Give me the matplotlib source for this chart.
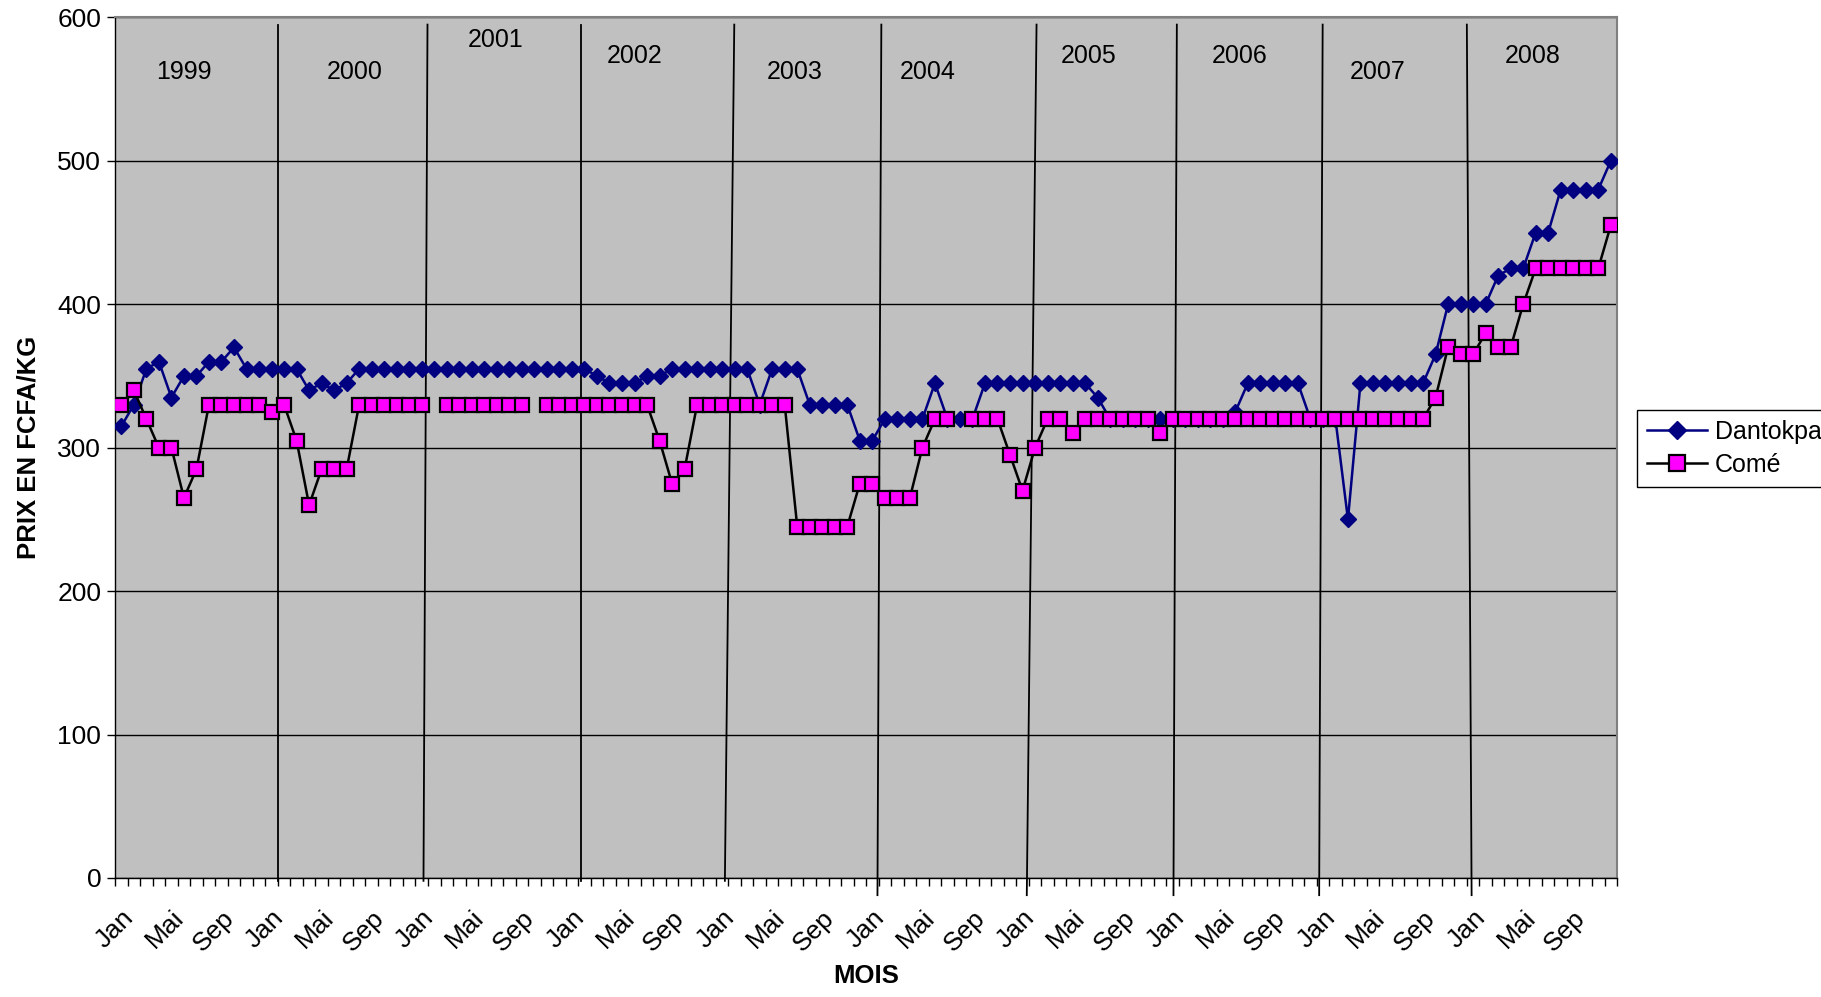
import numpy as np
import matplotlib
matplotlib.use('Agg')
import matplotlib.pyplot as plt
from matplotlib import font_manager

nan = np.nan

# monthly prices 1999-2008 (FCFA/kg), one row per year
dantokpa = [
    315, 330, 355, 360, 335, 350, 350, 360, 360, 370, 355, 355,
    355, 355, 355, 340, 345, 340, 345, 355, 355, 355, 355, 355,
    355, 355, 355, 355, 355, 355, 355, 355, 355, 355, 355, 355,
    355, 355, 350, 345, 345, 345, 350, 350, 355, 355, 355, 355,
    355, 355, 355, 330, 355, 355, 355, 330, 330, 330, 330, 305,
    305, 320, 320, 320, 320, 345, 320, 320, 320, 345, 345, 345,
    345, 345, 345, 345, 345, 345, 335, 320, 320, 320, 320, 320,
    320, 320, 320, 320, 320, 325, 345, 345, 345, 345, 345, 320,
    320, 320, 250, 345, 345, 345, 345, 345, 345, 365, 400, 400,
    400, 400, 420, 425, 425, 450, 450, 480, 480, 480, 480, 500,
]
come = [
    330, 340, 320, 300, 300, 265, 285, 330, 330, 330, 330, 330,
    325, 330, 305, 260, 285, 285, 285, 330, 330, 330, 330, 330,
    330, nan, 330, 330, 330, 330, 330, 330, 330, nan, 330, 330,
    330, 330, 330, 330, 330, 330, 330, 305, 275, 285, 330, 330,
    330, 330, 330, 330, 330, 330, 245, 245, 245, 245, 245, 275,
    275, 265, 265, 265, 300, 320, 320, nan, 320, 320, 320, 295,
    270, 300, 320, 320, 310, 320, 320, 320, 320, 320, 320, 310,
    320, 320, 320, 320, 320, 320, 320, 320, 320, 320, 320, 320,
    320, 320, 320, 320, 320, 320, 320, 320, 320, 335, 370, 365,
    365, 380, 370, 370, 400, 425, 425, 425, 425, 425, 425, 455,
]
month_names = ['Jan', 'Mai', 'Sep']
years = ['1999', '2000', '2001', '2002', '2003', '2004', '2005', '2006', '2007', '2008']

# hand-drawn year annotations (month index units / price units)
year_label_x = [4.98, 18.67, 29.94, 41.0, 53.79, 64.45, 77.27, 89.34, 100.4, 112.79]
year_label_y = [562, 562, 584, 573, 562, 562, 573, 573, 562, 573]
sep_top = [12.49, 24.46, 36.73, 48.97, 60.72, 73.12, 84.33, 95.98, 107.5]
sep_bottom = [12.49, 24.14, 36.73, 48.22, 60.41, 72.34, 84.06, 95.7, 107.88]
sep_low = [-2, -2, -2, -2, -12, -12, -12, -12, -12]

names = {f.name for f in font_manager.fontManager.ttflist}
narrow = 'Liberation Sans Narrow' if 'Liberation Sans Narrow' in names else 'Liberation Sans'
plt.rcParams['font.family'] = ['Liberation Sans', 'DejaVu Sans']

n = len(dantokpa)
x = np.arange(n)

fig = plt.figure(figsize=(18.21, 9.97), dpi=100)
ax = fig.add_axes([0.0632, 0.1194, 0.8248, 0.8631])
ax.set_facecolor('#C0C0C0')

ax.set_xlim(-0.5, n - 0.5)
ax.set_ylim(0, 600)
ax.set_yticks(np.arange(0, 601, 100))
ax.yaxis.grid(True, color='black', linewidth=1)
ax.set_axisbelow(True)

for t, b, lo in zip(sep_top, sep_bottom, sep_low):
    ax.plot([b, t], [lo, 595], color='black', linewidth=1.3, clip_on=False, zorder=1.5)

for lx, ly, txt in zip(year_label_x, year_label_y, years):
    ax.text(lx, ly, txt, ha='center', va='center', fontsize=18, family=narrow)

ax.plot(x, dantokpa, color='#000080', linewidth=1.8, marker='D', markersize=8.5,
        markerfacecolor='#000080', markeredgecolor='#000080', label='Dantokpa', zorder=3)
ax.plot(x, come, color='black', linewidth=1.8, marker='s', markersize=10,
        markerfacecolor='#FF00FF', markeredgecolor='black', markeredgewidth=1.6,
        label='Comé', zorder=4)

tick_pos = np.arange(0, n, 4)
ax.set_xticks(tick_pos)
ax.set_xticklabels([month_names[i % 3] for i in range(len(tick_pos))],
                   rotation=45, ha='right', va='top', rotation_mode='anchor',
                   fontsize=19, family=narrow)
ax.set_xticks(np.arange(-0.5, n, 1), minor=True)
ax.tick_params(axis='x', which='major', length=0, pad=20)
ax.tick_params(axis='x', which='minor', length=6, width=1, direction='out')
ax.tick_params(axis='y', length=6, width=1, direction='out', labelsize=19, pad=4)
for lab in ax.get_yticklabels():
    lab.set_family(narrow)

for s in ['top', 'right']:
    ax.spines[s].set_color('#808080')
    ax.spines[s].set_linewidth(1.5)
for s in ['left', 'bottom']:
    ax.spines[s].set_color('black')
    ax.spines[s].set_linewidth(1)

ax.set_ylabel('PRIX EN FCFA/KG', fontsize=18.5, fontweight='bold', labelpad=12)
ax.set_xlabel('MOIS', fontsize=18.5, fontweight='bold', labelpad=6)

leg = fig.legend(loc='upper left', bbox_to_anchor=(0.899, 0.589), fontsize=18,
                 frameon=True, fancybox=False, framealpha=1, edgecolor='black',
                 handlelength=2.4, borderpad=0.4, labelspacing=0.35, handletextpad=0.3,
                 borderaxespad=0, markerscale=1.1)
leg.get_frame().set_linewidth(1)

fig.savefig('out.png', dpi=100)
